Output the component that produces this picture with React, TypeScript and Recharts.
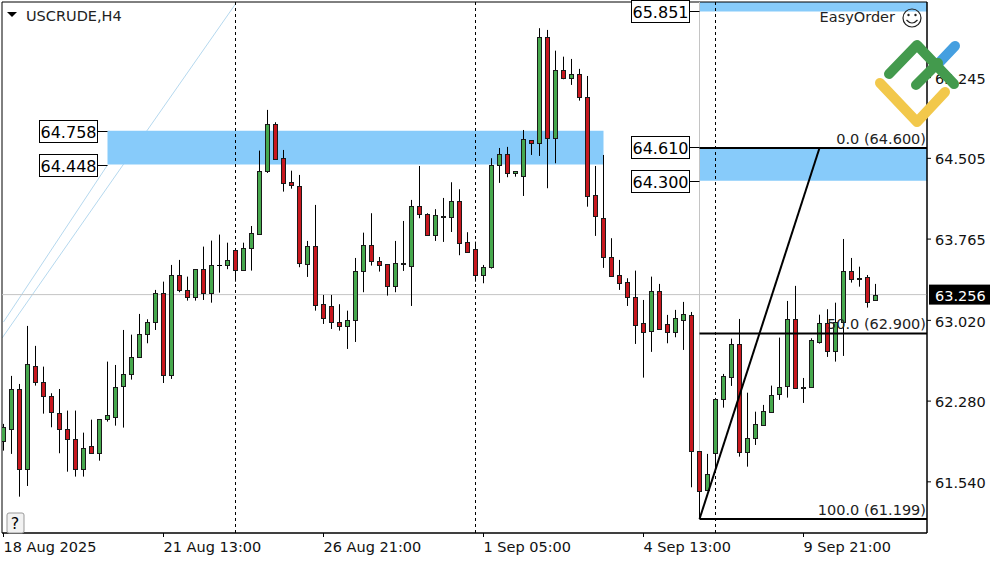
import React from 'react';
import {
  ComposedChart, Bar, XAxis, YAxis, ReferenceLine, ReferenceArea, ReferenceDot
} from 'recharts';

const FONT = '"DejaVu Sans", sans-serif';

const opens = [
  61.918, 62.028, 62.389, 61.655, 62.599, 62.453, 62.324, 62.169, 62.022, 61.930,
  61.655, 61.866, 61.802, 62.119, 62.132, 62.416, 62.526, 62.682, 62.893, 63.003,
  63.269, 62.517, 63.434, 63.296, 63.232, 63.489, 63.269, 63.525, 63.525, 63.663,
  63.478, 63.681, 63.809, 64.387, 64.818, 64.506, 64.286, 64.249, 63.540, 63.699,
  63.168, 63.149, 63.003, 62.972, 63.021, 63.470, 63.709, 63.562, 63.534, 63.333,
  63.535, 63.516, 64.066, 63.993, 63.800, 63.980, 63.965, 64.112, 63.736, 63.672,
  63.434, 63.512, 64.442, 64.543, 64.369, 64.341, 64.671, 64.644, 65.615, 64.689,
  65.313, 65.239, 65.276, 65.065, 64.167, 63.956, 63.599, 63.434, 63.369, 63.232,
  62.994, 62.926, 63.287, 62.984, 62.917, 63.027, 63.070, 61.820, 61.466, 61.802,
  62.297, 62.499, 62.801, 61.811, 61.940, 62.064, 62.183, 62.343, 62.416, 63.030,
  62.403, 62.407, 62.825, 62.994, 62.737, 63.003, 63.470, 63.404, 63.415, 63.204,
];
const highs = [
  62.071, 62.511, 62.437, 62.969, 62.786, 62.596, 62.352, 62.391, 62.193, 62.193,
  61.991, 62.110, 62.114, 62.642, 62.611, 62.932, 62.889, 63.079, 63.030, 63.299,
  63.375, 63.528, 63.574, 63.421, 63.489, 63.696, 63.751, 63.806, 63.732, 63.680,
  63.732, 63.885, 64.576, 64.949, 64.836, 64.582, 64.392, 64.353, 63.748, 64.078,
  63.253, 63.253, 63.168, 63.109, 63.592, 63.824, 64.002, 63.601, 63.534, 63.748,
  63.931, 64.124, 64.435, 64.002, 64.039, 64.142, 64.286, 64.222, 63.828, 63.742,
  63.528, 64.506, 64.600, 64.610, 64.387, 64.765, 64.671, 65.698, 65.682, 65.492,
  65.437, 65.416, 65.325, 65.260, 64.435, 64.536, 63.773, 63.574, 63.406, 63.476,
  63.207, 63.421, 63.354, 63.070, 63.116, 63.189, 63.097, 61.820, 61.796, 62.309,
  62.529, 62.853, 63.033, 62.357, 62.183, 62.245, 62.422, 62.862, 63.198, 63.336,
  62.492, 62.856, 63.072, 63.122, 63.182, 63.766, 63.592, 63.512, 63.436, 63.354,
];
const lows = [
  61.826, 61.796, 61.404, 61.502, 62.422, 62.165, 62.040, 61.802, 61.633, 61.588,
  61.588, 61.802, 61.734, 62.092, 62.055, 62.037, 62.477, 62.682, 62.810, 62.932,
  62.446, 62.483, 63.278, 63.201, 63.201, 63.207, 63.182, 63.274, 63.489, 63.375,
  63.476, 63.476, 63.809, 64.371, 64.497, 64.200, 64.227, 63.507, 63.418, 63.109,
  62.987, 62.941, 62.926, 62.758, 62.822, 63.278, 63.522, 63.467, 63.247, 63.278,
  63.473, 63.152, 63.956, 63.800, 63.748, 63.739, 63.830, 63.617, 63.644, 63.375,
  63.360, 63.494, 64.280, 64.332, 64.337, 64.160, 64.536, 64.527, 64.231, 64.460,
  65.230, 65.178, 65.034, 64.062, 63.794, 63.501, 63.421, 63.299, 63.152, 62.804,
  62.495, 62.731, 62.932, 62.810, 62.865, 62.749, 61.490, 61.200, 61.466, 61.622,
  62.220, 62.419, 61.771, 61.679, 61.878, 62.064, 62.183, 62.291, 62.312, 62.394,
  62.263, 62.407, 62.807, 62.685, 62.642, 62.694, 63.366, 63.329, 63.137, 63.204,
];
const closes = [
  62.040, 62.389, 61.655, 62.618, 62.453, 62.324, 62.178, 62.022, 61.930, 61.655,
  61.848, 61.802, 62.114, 62.150, 62.407, 62.526, 62.682, 62.893, 63.003, 63.269,
  62.517, 63.434, 63.296, 63.232, 63.489, 63.269, 63.525, 63.525, 63.571, 63.478,
  63.681, 63.819, 64.387, 64.818, 64.502, 64.282, 64.264, 63.544, 63.699, 63.159,
  63.039, 63.003, 62.972, 63.021, 63.470, 63.709, 63.562, 63.531, 63.333, 63.544,
  63.544, 64.066, 63.993, 63.800, 63.984, 63.971, 64.112, 63.732, 63.650, 63.434,
  63.507, 64.442, 64.543, 64.369, 64.387, 64.680, 64.644, 65.615, 64.689, 65.313,
  65.239, 65.276, 65.065, 64.158, 63.974, 63.599, 63.430, 63.360, 63.232, 62.981,
  62.917, 63.287, 62.941, 62.917, 63.039, 63.076, 61.820, 61.459, 61.610, 62.297,
  62.508, 62.801, 61.811, 61.940, 62.068, 62.187, 62.334, 62.407, 63.030, 62.403,
  62.407, 62.838, 62.994, 62.737, 63.003, 63.470, 63.402, 63.400, 63.192, 63.250,
];

const tickIndexes = [0, 20, 40, 60, 80, 100];
const tickLabels = ['18 Aug 2025', '21 Aug 13:00', '26 Aug 21:00', '1 Sep 05:00', '4 Sep 13:00', '9 Sep 21:00'];
const priceTicks = [65.245, 64.505, 63.765, 63.02, 62.28, 61.54];
const sessionLines = [29, 59, 89];

const lastPrice = 63.256;
const FIB_START = 87;
const FIB_END = 102;
const fibLevels = [
  { price: 64.6, label: '0.0 (64.600)' },
  { price: 62.9, label: '50.0 (62.900)' },
  { price: 61.199, label: '100.0 (61.199)' },
];

const X_MIN = -0.1875;
const X_MAX = 115.4375;
const Y_MIN = 61.071;
const Y_MAX = 65.938;

const chartData = opens.map((open, i) => ({
  idx: i,
  open,
  high: highs[i],
  low: lows[i],
  close: closes[i],
  range: [lows[i], highs[i]],
}));

const Candle = (props: any) => {
  const { x, y, width, height, payload } = props;
  const { open, close, high, low } = payload;
  const perUnit = height / (high - low);
  // snap to the pixel grid so wicks stay 1px black
  const cx = Math.floor(x + width / 2) + 0.5;
  const top = Math.round(y + (high - Math.max(open, close)) * perUnit) + 0.5;
  const bottom = Math.round(y + (high - Math.min(open, close)) * perUnit) + 0.5;
  const doji = bottom - top < 1;
  return (
    <g>
      <line x1={cx} x2={cx} y1={y} y2={y + height} stroke="#000" strokeWidth={1} />
      {doji ? (
        <line x1={cx - 2.5} x2={cx + 2.5} y1={top} y2={top} stroke="#000" strokeWidth={1} />
      ) : (
        <rect
          x={cx - 2}
          y={top}
          width={4}
          height={bottom - top}
          fill={close > open ? '#46a84d' : '#c8171e'}
          stroke="#1a1a1a"
          strokeWidth={1}
        />
      )}
    </g>
  );
};

// boxed price label sitting left of a zone corner
const PriceBox = ({ cx, cy, text }: any) => {
  const y = Math.round(cy) + 0.5;
  return (
    <g>
      <line x1={cx - 10} x2={cx} y1={y} y2={y} stroke="#000" />
      <rect x={cx - 68} y={y - 11} width={58} height={22} fill="#fff" stroke="#000" />
      <text x={cx - 39} y={y + 6} textAnchor="middle" fontFamily={FONT} fontSize={16} fill="#000">{text}</text>
    </g>
  );
};

const FibLabel = ({ cx, cy, text }: any) => (
  <text x={cx - 1} y={cy - 4} textAnchor="end" fontFamily={FONT} fontSize={14.5} fill="#222">{text}</text>
);

const LastPriceTag = ({ cx, cy, text }: any) => (
  <g>
    <rect x={cx + 2} y={cy - 10} width={61} height={20} fill="#000" />
    <text x={cx + 8} y={cy + 6} fontFamily={FONT} fontSize={14.5} fill="#fff">{text}</text>
  </g>
);

const DateTick = ({ x, y, payload }: any) => (
  <text x={x} y={y + 13} fontFamily={FONT} fontSize={14.5} fill="#111">
    {tickLabels[tickIndexes.indexOf(payload.value)]}
  </text>
);

export default function App() {
  return (
    <div style={{ position: 'absolute', left: 0, top: 0, width: 1000, height: 562, background: '#fff', fontFamily: FONT }}>
      <ComposedChart
        width={1000}
        height={562}
        data={chartData}
        margin={{ top: 2, right: 0, bottom: 0, left: 2 }}
      >
        <XAxis
          dataKey="idx"
          type="number"
          domain={[X_MIN, X_MAX]}
          ticks={tickIndexes}
          interval={0}
          allowDataOverflow
          height={29}
          tickSize={4}
          tick={<DateTick />}
          stroke="#000"
        />
        <YAxis
          orientation="right"
          type="number"
          domain={[Y_MIN, Y_MAX]}
          ticks={priceTicks}
          interval={0}
          allowDataOverflow
          width={73}
          tickSize={4}
          tickMargin={4}
          tickFormatter={(v: number) => v.toFixed(3)}
          tick={{ fontFamily: FONT, fontSize: 14.5, fill: '#111', dy: 1 }}
          stroke="#000"
        />

        <ReferenceLine zIndex={50} segment={[{ x: 0, y: 63.005 }, { x: 13, y: 64.444 }]} stroke="#b5d8ee" ifOverflow="hidden" />
        <ReferenceLine zIndex={50} segment={[{ x: -0.16, y: 62.86 }, { x: 29, y: 65.92 }]} stroke="#b5d8ee" ifOverflow="hidden" />

        <ReferenceArea x1={13} x2={75} y1={64.448} y2={64.758} fill="#87cbfa" fillOpacity={1} stroke="none" />
        <ReferenceArea x1={FIB_START} x2={X_MAX} y1={64.3} y2={64.61} fill="#87cbfa" fillOpacity={1} stroke="none" />
        <ReferenceArea x1={FIB_START} x2={X_MAX} y1={65.851} y2={Y_MAX} fill="#87cbfa" fillOpacity={1} stroke="none" />

        <ReferenceLine zIndex={150} y={lastPrice} stroke="#c4c4c4" />
        <ReferenceLine zIndex={150} segment={[{ x: FIB_START, y: Y_MAX }, { x: FIB_START, y: 61.199 }]} stroke="#c4c4c4" />
        {sessionLines.map((x) => (
          <ReferenceLine zIndex={150} key={x} x={x} stroke="#000" strokeDasharray="3 3" />
        ))}

        <Bar dataKey="range" barSize={5} shape={<Candle />} isAnimationActive={false} />

        {fibLevels.map((f) => (
          <ReferenceLine
            key={f.label}
            segment={[{ x: FIB_START, y: f.price }, { x: X_MAX, y: f.price }]}
            stroke="#000"
            strokeWidth={2}
          />
        ))}
        <ReferenceLine segment={[{ x: FIB_START, y: 61.199 }, { x: FIB_END, y: 64.6 }]} stroke="#000" strokeWidth={2} />
        {fibLevels.map((f) => (
          <ReferenceDot
            key={f.label}
            x={X_MAX}
            y={f.price}
            ifOverflow="visible"
            shape={<FibLabel text={f.label} />}
          />
        ))}

        <ReferenceDot x={13} y={64.758} ifOverflow="visible" shape={<PriceBox text="64.758" />} />
        <ReferenceDot x={13} y={64.448} ifOverflow="visible" shape={<PriceBox text="64.448" />} />
        <ReferenceDot x={FIB_START} y={65.851} ifOverflow="visible" shape={<PriceBox text="65.851" />} />
        <ReferenceDot x={FIB_START} y={64.61} ifOverflow="visible" shape={<PriceBox text="64.610" />} />
        <ReferenceDot x={FIB_START} y={64.3} ifOverflow="visible" shape={<PriceBox text="64.300" />} />
        <ReferenceDot x={X_MAX} y={lastPrice} ifOverflow="visible" shape={<LastPriceTag text="63.256" />} />

        <ReferenceArea x1={X_MIN} x2={X_MAX} y1={Y_MIN} y2={Y_MAX} fill="none" stroke="#000" ifOverflow="visible" />
      </ComposedChart>

      {/* chart window furniture and the watermark, on top of the plot */}
      <svg width={1000} height={562} style={{ position: 'absolute', left: 0, top: 0, pointerEvents: 'none' }}>
        <path d="M7 12 L17 12 L12 17 Z" fill="#000" />
        <text x={26} y={21} fontFamily={FONT} fontSize={14.5} fill="#222">USCRUDE,H4</text>

        <rect x={7} y={513} width={17} height={20} rx={2} fill="#f2f2f2" stroke="#999" />
        <text x={15} y={529} textAnchor="middle" fontFamily={FONT} fontSize={16} fill="#000">?</text>

        <text x={895} y={22} textAnchor="end" fontFamily={FONT} fontSize={14.5} fill="#222">EasyOrder</text>
        <circle cx={912} cy={18} r={9} fill="none" stroke="#222" strokeWidth={1.2} />
        <circle cx={908.5} cy={15} r={1.2} fill="#222" />
        <circle cx={915.5} cy={15} r={1.2} fill="#222" />
        <path d="M906.5 20 Q912 26 917.5 20" fill="none" stroke="#222" strokeWidth={1.2} />

        <g fill="none" strokeLinecap="round" strokeLinejoin="round" strokeWidth={10}>
          <path d="M937 65 L955 46" stroke="#459fe0" />
          <path d="M880 83 L917 122 L945 92" stroke="#f2c84b" />
          <path d="M889 74 L917 45 L954 84" stroke="#439a4d" />
          <path d="M916 85 L938 63" stroke="#439a4d" />
        </g>
      </svg>
    </div>
  );
}
